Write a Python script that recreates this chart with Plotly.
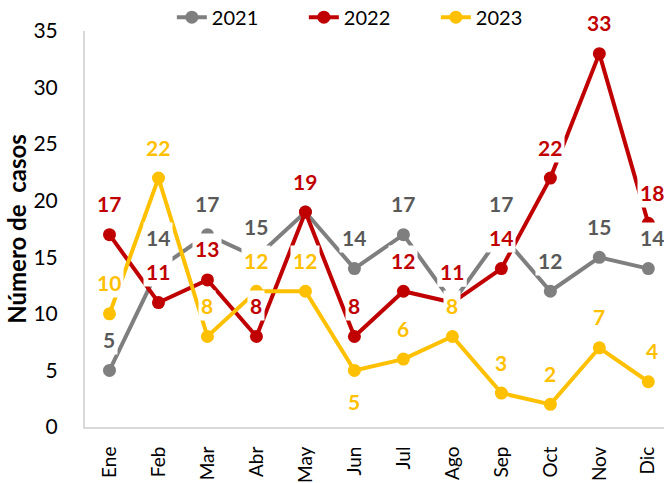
import plotly.graph_objects as go

months = ["Ene", "Feb", "Mar", "Abr", "May", "Jun", "Jul", "Ago", "Sep", "Oct", "Nov", "Dic"]
years = ["2021", "2022", "2023"]
cases_2021 = [5, 14, 17, 15, 19, 14, 17, 11, 17, 12, 15, 14]
cases_2022 = [17, 11, 13, 8, 19, 8, 12, 11, 14, 22, 33, 18]
cases_2023 = [10, 22, 8, 12, 12, 5, 6, 8, 3, 2, 7, 4]
y_ticks = [0, 5, 10, 15, 20, 25, 30, 35]

# style: label placement per point (1 = above, -1 = below)
label_side_2023 = [1, 1, 1, 1, 1, -1, 1, 1, 1, 1, 1, 1]

line_colors = ["#7F7F7F", "#C00000", "#FFC000"]
label_colors = ["#595959", "#C00000", "#FFC000"]
series = [cases_2021, cases_2022, cases_2023]
sides = [[1] * 12, [1] * 12, label_side_2023]

FONT = "Lato"

fig = go.Figure()
for name, vals, col in zip(years, series, line_colors):
    fig.add_trace(go.Scatter(
        x=months, y=vals, name=name, mode="lines+markers",
        line=dict(color=col, width=4),
        marker=dict(color=col, size=13),
        cliponaxis=False,
    ))

annotations = []
for vals, col, side in zip(series, label_colors, sides):
    for i, (m, v, s) in enumerate(zip(months, vals, side)):
        annotations.append(dict(
            x=m, y=v, xref="x", yref="y", text=str(v), showarrow=False,
            yshift=31 * s, xshift=4 if i == len(months) - 1 else 0,
            bgcolor="white", borderpad=2,
            font=dict(family=FONT, size=21, color=col, weight="bold"),
        ))

fig.update_layout(
    width=664, height=483,
    margin=dict(l=85, r=0, t=31, b=56, autoexpand=False),
    paper_bgcolor="white", plot_bgcolor="white",
    font=dict(family=FONT, size=20, color="black"),
    annotations=annotations,
    showlegend=True,
    legend=dict(
        orientation="h",
        x=0.15, y=1.035, xanchor="left", yanchor="middle",
        font=dict(family=FONT, size=20, color="black"),
        bgcolor="rgba(0,0,0,0)", entrywidth=87,
    ),
    xaxis=dict(
        type="category", range=[-0.5, 11.32], automargin=False,
        showline=True, linecolor="#D9D9D9", linewidth=2,
        showgrid=False, zeroline=False,
        ticks="outside", ticklen=10, tickcolor="rgba(0,0,0,0)",
        tickangle=-90, tickfont=dict(family=FONT, size=19, color="black"),
    ),
    yaxis=dict(
        range=[0, 35], tickvals=y_ticks, automargin=False,
        showline=True, linecolor="#D9D9D9", linewidth=2,
        showgrid=False, zeroline=False,
        ticks="outside", ticklen=21, tickcolor="rgba(0,0,0,0)",
        tickfont=dict(family=FONT, size=21, color="black"),
        title=dict(text="Número de\u00a0 casos", standoff=0,
                   font=dict(family=FONT, size=24, color="black", weight="bold")),
    ),
)

fig.write_html("out.html", config={"displayModeBar": False},
               post_script="document.body.style.margin='0';")
